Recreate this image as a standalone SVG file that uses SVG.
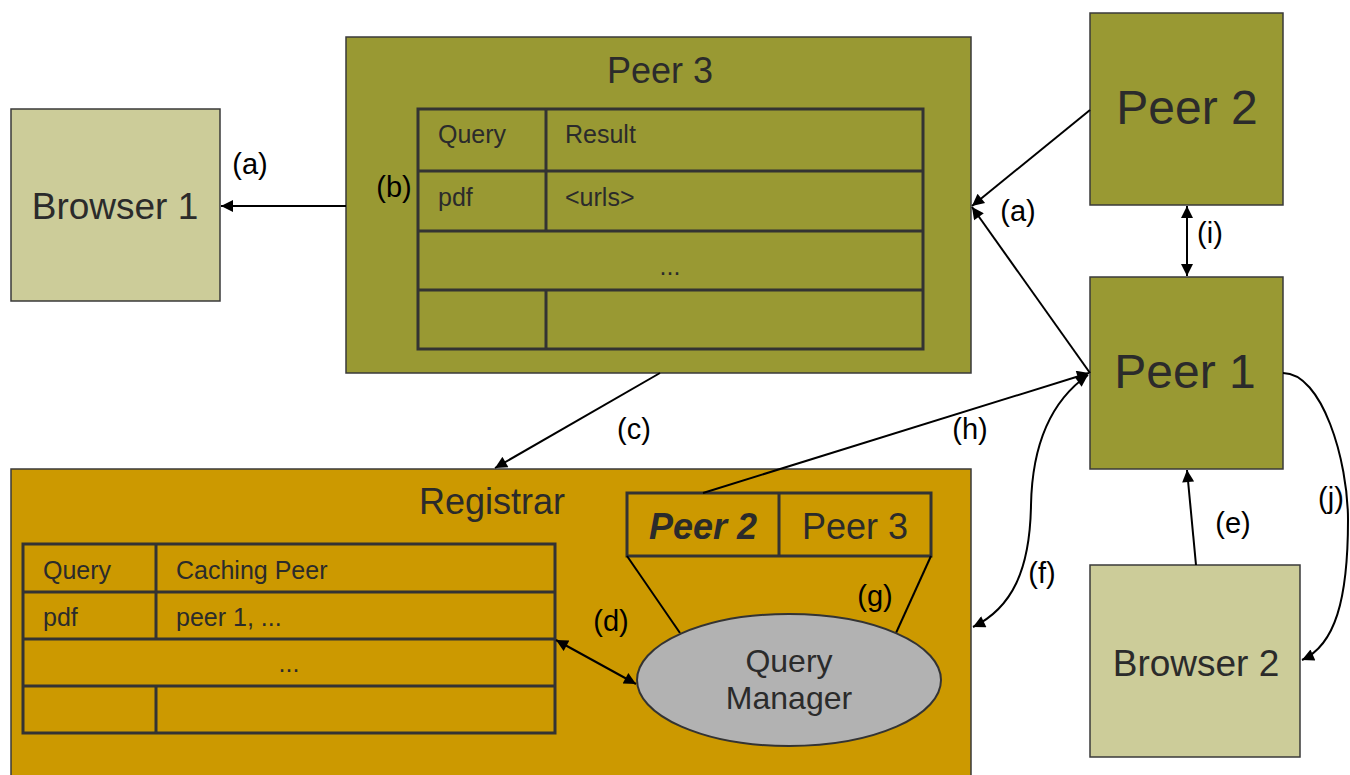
<svg xmlns="http://www.w3.org/2000/svg" width="1350" height="775" viewBox="0 0 1350 775">
<defs>
<marker id="ah" viewBox="0 0 10 10" refX="10" refY="5" markerWidth="14" markerHeight="12" markerUnits="userSpaceOnUse" orient="auto-start-reverse">
<path d="M0,0 L10,5 L0,10 z" fill="#000"/>
</marker>
<style>
text{font-family:"Liberation Sans",Arial,sans-serif;fill:#2b2b2b}
.box{stroke:#3a3a3a;stroke-width:1.5}
.olive{fill:#999933}
.khaki{fill:#cccc99}
.gold{fill:#cc9900}
.tbl{fill:none;stroke:#333;stroke-width:3}
.ln{fill:none;stroke:#000;stroke-width:2}
.lbl{font-size:29px;fill:#000}
.cell{font-size:25px}
</style>
</defs>
<rect width="1350" height="775" fill="#fff"/>

<g id="registrar">
<rect class="box gold" x="11" y="469" width="960" height="320"/>
<text x="492" y="514" font-size="36" text-anchor="middle">Registrar</text>
<rect class="tbl" x="23" y="544" width="532" height="189"/>
<line class="tbl" x1="23" y1="592" x2="555" y2="592"/>
<line class="tbl" x1="23" y1="639" x2="555" y2="639"/>
<line class="tbl" x1="23" y1="686" x2="555" y2="686"/>
<line class="tbl" x1="156" y1="544" x2="156" y2="639"/>
<line class="tbl" x1="156" y1="686" x2="156" y2="733"/>
<text class="cell" x="43" y="579">Query</text>
<text class="cell" x="176" y="579">Caching Peer</text>
<text class="cell" x="43" y="626">pdf</text>
<text class="cell" x="176" y="626">peer 1, ...</text>
<text class="cell" x="289" y="672" text-anchor="middle">...</text>
</g>

<g id="peerlist">
<rect class="tbl" x="627" y="493" width="304" height="63"/>
<line class="tbl" x1="779" y1="493" x2="779" y2="556"/>
<text x="703" y="539" font-size="36" font-weight="bold" font-style="italic" text-anchor="middle">Peer 2</text>
<text x="855" y="539" font-size="36" text-anchor="middle">Peer 3</text>
<line class="ln" x1="627" y1="556" x2="680" y2="633" stroke="#222"/>
<line class="ln" x1="931" y1="556" x2="896" y2="633" stroke="#222"/>
<text class="lbl" x="875" y="606" text-anchor="middle">(g)</text>
</g>

<g id="querymanager">
<ellipse cx="789" cy="680" rx="152" ry="66" fill="#b2b2b2" stroke="#333" stroke-width="2"/>
<text x="789" y="672" font-size="32" text-anchor="middle" fill="#444">Query</text>
<text x="789" y="709" font-size="32" text-anchor="middle" fill="#444">Manager</text>
</g>

<g id="browser1">
<rect class="box khaki" x="11" y="109" width="209" height="192"/>
<text x="115" y="219" font-size="37" text-anchor="middle">Browser 1</text>
</g>

<g id="peer3">
<rect class="box olive" x="346" y="37" width="625" height="336"/>
<text x="660" y="83" font-size="36" text-anchor="middle">Peer 3</text>
<rect class="tbl" x="418" y="109" width="505" height="240"/>
<line class="tbl" x1="418" y1="171" x2="923" y2="171"/>
<line class="tbl" x1="418" y1="231" x2="923" y2="231"/>
<line class="tbl" x1="418" y1="290" x2="923" y2="290"/>
<line class="tbl" x1="546" y1="109" x2="546" y2="231"/>
<line class="tbl" x1="546" y1="290" x2="546" y2="349"/>
<text class="cell" x="438" y="143">Query</text>
<text class="cell" x="565" y="143">Result</text>
<text class="cell" x="438" y="206">pdf</text>
<text class="cell" x="565" y="206">&lt;urls&gt;</text>
<text class="cell" x="670" y="275" text-anchor="middle">...</text>
</g>

<g id="peer2">
<rect class="box olive" x="1090" y="13" width="193" height="192"/>
<text x="1187" y="124" font-size="48" text-anchor="middle">Peer 2</text>
</g>

<g id="peer1">
<rect class="box olive" x="1090" y="277" width="193" height="192"/>
<text x="1185" y="388" font-size="48" text-anchor="middle">Peer 1</text>
</g>

<g id="browser2">
<rect class="box khaki" x="1090" y="565" width="210" height="192"/>
<text x="1196" y="676" font-size="37" text-anchor="middle">Browser 2</text>
</g>

<g id="connectors">
<line class="ln" x1="346" y1="206" x2="221" y2="206" marker-end="url(#ah)"/>
<line class="ln" x1="1090" y1="110" x2="972" y2="206" marker-end="url(#ah)"/>
<line class="ln" x1="1090" y1="373" x2="972" y2="207" marker-end="url(#ah)"/>
<line class="ln" x1="1187" y1="206" x2="1187" y2="276" marker-start="url(#ah)" marker-end="url(#ah)"/>
<line class="ln" x1="660" y1="373" x2="495" y2="468" marker-end="url(#ah)"/>
<line class="ln" x1="703" y1="493" x2="1089" y2="373" marker-end="url(#ah)"/>
<path class="ln" d="M1088,375 C1045,405 1032,455 1031,505 C1030,570 1012,608 973,627" marker-start="url(#ah)" marker-end="url(#ah)"/>
<path class="ln" d="M1283,373 C1322,373 1348,460 1348,520 C1348,600 1335,645 1302,660" marker-end="url(#ah)"/>
<line class="ln" x1="1196" y1="565" x2="1187" y2="470" marker-end="url(#ah)"/>
<line class="ln" x1="556" y1="640" x2="636" y2="684" marker-start="url(#ah)" marker-end="url(#ah)"/>
<text class="lbl" x="250" y="174" text-anchor="middle">(a)</text>
<text class="lbl" x="394" y="197" text-anchor="middle">(b)</text>
<text class="lbl" x="1018" y="221" text-anchor="middle">(a)</text>
<text class="lbl" x="1210" y="243" text-anchor="middle">(i)</text>
<text class="lbl" x="634" y="439" text-anchor="middle">(c)</text>
<text class="lbl" x="970" y="439" text-anchor="middle">(h)</text>
<text class="lbl" x="1042" y="583" text-anchor="middle">(f)</text>
<text class="lbl" x="1331" y="508" text-anchor="middle">(j)</text>
<text class="lbl" x="1233" y="533" text-anchor="middle">(e)</text>
<text class="lbl" x="611" y="631" text-anchor="middle">(d)</text>
</g>
</svg>
